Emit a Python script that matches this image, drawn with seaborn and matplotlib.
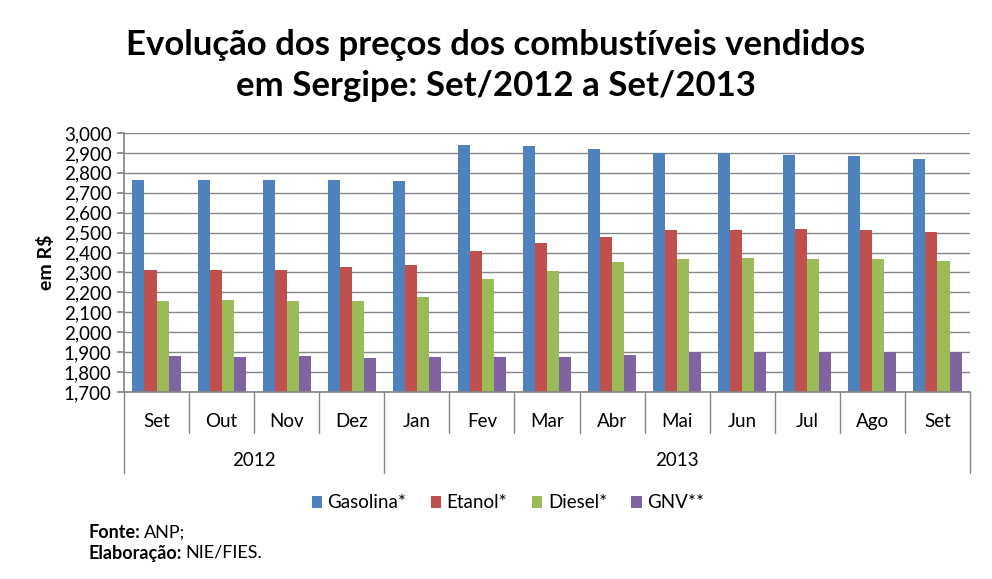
import matplotlib
matplotlib.use("Agg")
import matplotlib.pyplot as plt
import seaborn as sns
import pandas as pd
import numpy as np
from matplotlib.ticker import FuncFormatter, MultipleLocator

months = ["Set", "Out", "Nov", "Dez", "Jan", "Fev", "Mar", "Abr", "Mai", "Jun", "Jul", "Ago", "Set"]
years = ["2012", "2012", "2012", "2012", "2013", "2013", "2013", "2013", "2013", "2013", "2013", "2013", "2013"]
series = ["Gasolina*", "Etanol*", "Diesel*", "GNV**"]
gasolina = [2.766, 2.766, 2.766, 2.766, 2.761, 2.941, 2.936, 2.921, 2.900, 2.900, 2.891, 2.886, 2.871]
etanol = [2.314, 2.314, 2.314, 2.326, 2.336, 2.409, 2.450, 2.480, 2.515, 2.515, 2.520, 2.515, 2.505]
diesel = [2.158, 2.163, 2.158, 2.158, 2.175, 2.269, 2.309, 2.354, 2.369, 2.374, 2.369, 2.369, 2.359]
gnv = [1.882, 1.877, 1.882, 1.872, 1.877, 1.877, 1.877, 1.887, 1.902, 1.902, 1.902, 1.902, 1.900]
colors = ["#4F81BD", "#C0504D", "#9BBB59", "#8064A2"]

keys = [f"{m}/{y}" for m, y in zip(months, years)]
rows = []
for name, vals in zip(series, [gasolina, etanol, diesel, gnv]):
    for k, v in zip(keys, vals):
        rows.append({"mes": k, "serie": name, "valor": v})
df = pd.DataFrame(rows)

sns.set_theme(style="white")
plt.rcParams['font.family'] = ['Lato', 'DejaVu Sans']
plt.rcParams['text.color'] = 'black'
plt.rcParams['axes.labelcolor'] = 'black'
plt.rcParams['xtick.color'] = 'black'
plt.rcParams['ytick.color'] = 'black'

fig = plt.figure(figsize=(9.92, 5.79), dpi=100)
ax = fig.add_axes([124/992, 1-392/579, (970-124)/992, 259/579])

sns.barplot(data=df, x="mes", y="valor", hue="serie", order=keys, hue_order=series,
            palette=colors, width=0.74, ax=ax, saturation=1, legend=True, linewidth=0)

ax.set_ylim(1.7, 3.0)
ax.yaxis.set_major_locator(MultipleLocator(0.1))
ax.yaxis.set_major_formatter(FuncFormatter(lambda v, p: f"{v:.3f}".replace(".", ",")))
ax.grid(axis="y", color="#868686", linewidth=1)
ax.set_axisbelow(True)
for s in ["top", "right"]:
    ax.spines[s].set_visible(False)
ax.spines["left"].set_color("#868686")
ax.spines["bottom"].set_color("#868686")
ax.tick_params(axis="y", left=True, length=5, color="#868686", labelcolor="black", labelsize=13.5, pad=4)
ax.tick_params(axis="x", bottom=False, labelcolor="black", labelsize=13.5, pad=9)
ax.set_xticks(range(len(months)))
ax.set_xticklabels(months)
ax.set_xlim(-0.5, len(months) - 0.5)
ax.set_xlabel("")
ax.set_ylabel("em R$", fontsize=14, fontweight="bold", labelpad=6, color="black")

# category separators
trans = ax.get_xaxis_transform()
n = len(months)
year_bounds = [-0.5] + [i + 0.5 for i in range(n - 1) if years[i] != years[i + 1]] + [n - 0.5]
for b in np.arange(-0.5, n, 1.0):
    low = -81/259 if b in year_bounds else -41/259
    ax.plot([b, b], [0, low], transform=trans, color="#868686", lw=1, clip_on=False)
# year labels
uniq = []
for y in years:
    if y not in uniq:
        uniq.append(y)
for y in uniq:
    idx = [i for i, yy in enumerate(years) if yy == y]
    ax.text((idx[0] + idx[-1]) / 2, -68/259, y, transform=trans, ha="center", va="center", fontsize=13.5)

leg = ax.legend(loc="center", bbox_to_anchor=(508/992, 1-503/579), bbox_transform=fig.transFigure,
                ncol=4, frameon=False,
                fontsize=13.5, handlelength=0.55, handleheight=0.55, handletextpad=0.3, columnspacing=1.3)

fig.text(0.5, 1-45/579, "Evolução dos preços dos combustíveis vendidos", ha="center", va="center",
         fontsize=25, fontweight="bold")
fig.text(0.5, 1-86/579, "em Sergipe: Set/2012 a Set/2013", ha="center", va="center",
         fontsize=25, fontweight="bold")

t1 = fig.text(88/992, 1-533/579, "Fonte:", ha="left", va="center", fontsize=13, fontweight="bold")
t2 = fig.text(88/992, 1-553/579, "Elaboração:", ha="left", va="center", fontsize=13, fontweight="bold")

fig.canvas.draw()
r = fig.canvas.get_renderer()
bb = t1.get_window_extent(r)
fig.text((bb.x1 + 4) / 992, 1-533/579, "ANP;", ha="left", va="center", fontsize=13)
bb2 = t2.get_window_extent(r)
fig.text((bb2.x1 + 4) / 992, 1-553/579, "NIE/FIES.", ha="left", va="center", fontsize=13)

fig.savefig("out.png", dpi=100, facecolor="white")
